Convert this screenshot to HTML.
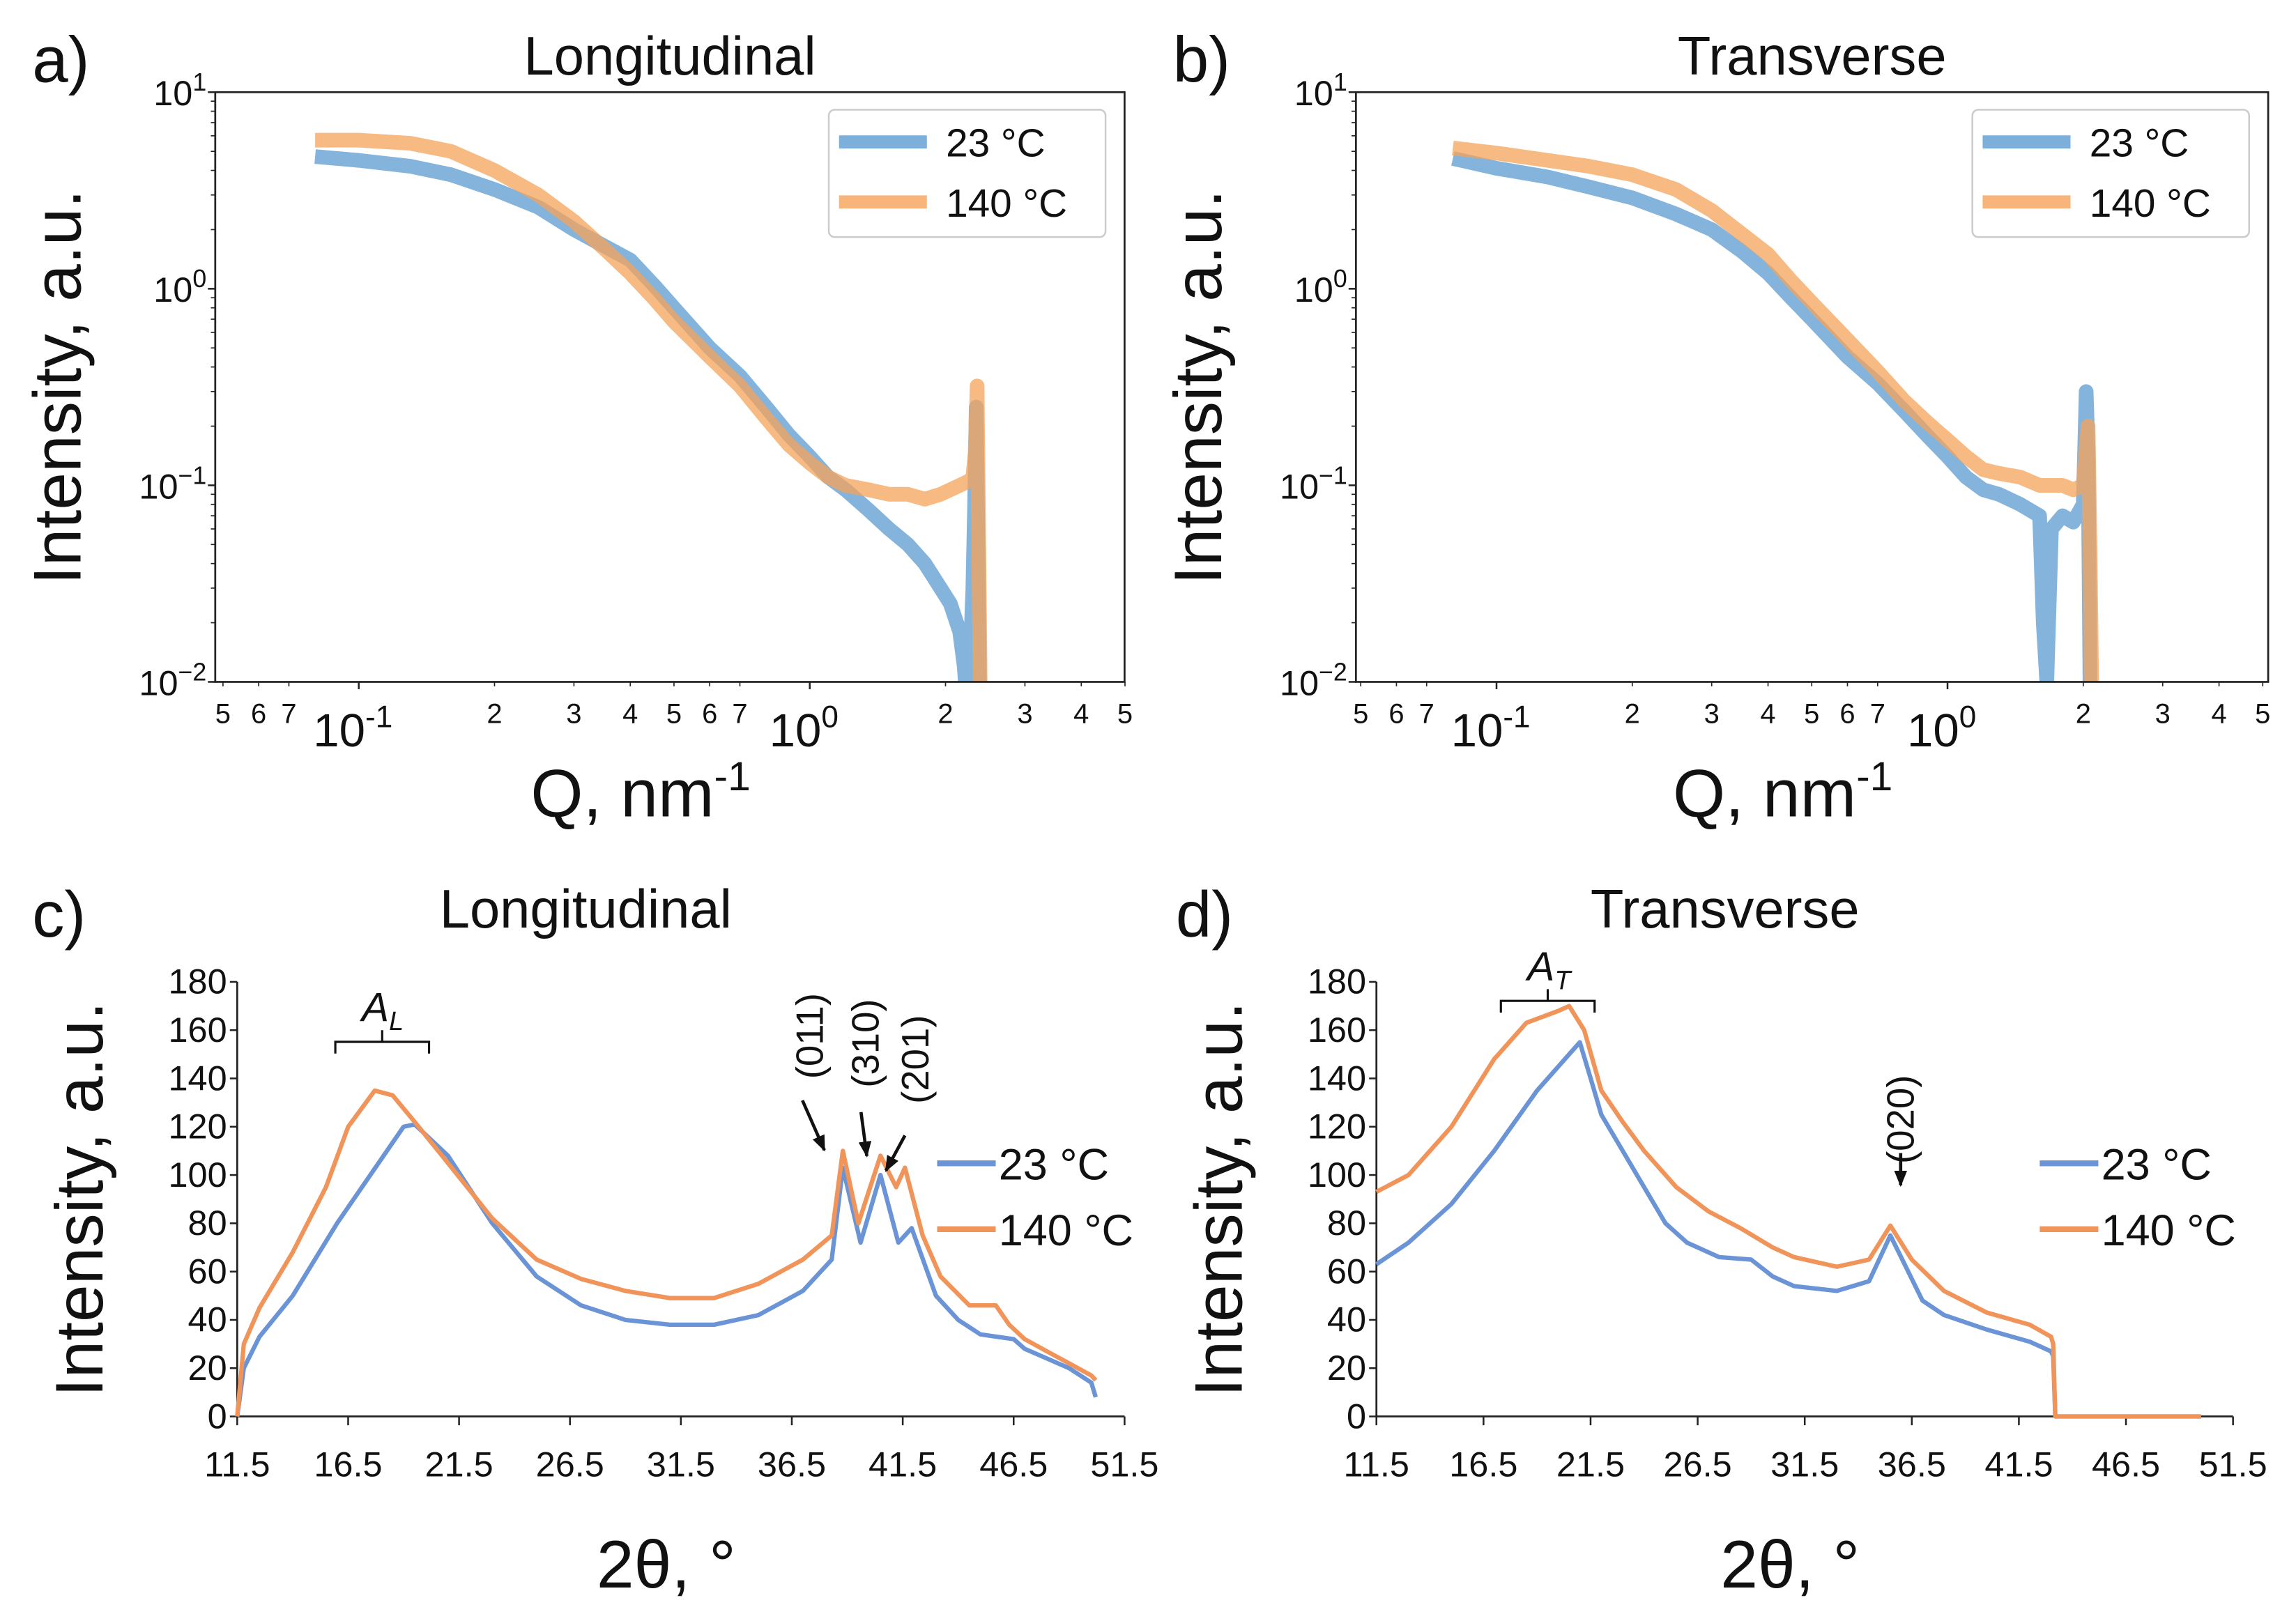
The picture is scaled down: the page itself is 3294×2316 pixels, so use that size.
<!DOCTYPE html>
<html><head><meta charset="utf-8"><style>
html,body{margin:0;padding:0;background:#fff;}
svg{display:block;}
text{font-family:"Liberation Sans",sans-serif;fill:#111;}
</style></head><body>
<svg id="fig" width="3294" height="2316" viewBox="0 0 1568 1103" preserveAspectRatio="none" xmlns="http://www.w3.org/2000/svg">
<g id="root"></g>
</svg>
<script>
// ---- Panel a data (SAXS longitudinal) ----
const qA_blue = [0.08,0.1,0.13,0.16,0.2,0.25,0.3,0.35,0.4,0.45,0.5,0.6,0.7,0.8,0.9,1.0,1.1,1.2,1.35,1.5,1.65,1.8,1.95,2.05,2.15,2.2,2.22,2.25,2.3,2.32,2.34,2.36,2.38];
const iA_blue = [4.7,4.5,4.2,3.8,3.2,2.6,2.0,1.65,1.4,1.05,0.8,0.5,0.36,0.25,0.18,0.14,0.11,0.095,0.075,0.06,0.05,0.04,0.03,0.025,0.018,0.012,0.009,0.008,0.03,0.08,0.25,0.05,0.008];
const qA_orange = [0.08,0.1,0.13,0.16,0.2,0.25,0.3,0.35,0.4,0.45,0.5,0.6,0.7,0.8,0.9,1.0,1.1,1.2,1.35,1.5,1.65,1.8,1.95,2.05,2.15,2.25,2.3,2.33,2.35,2.37,2.39];
const iA_orange = [5.7,5.7,5.5,5.0,4.0,3.0,2.2,1.6,1.2,0.9,0.68,0.45,0.32,0.22,0.16,0.13,0.11,0.1,0.095,0.09,0.09,0.085,0.09,0.095,0.1,0.105,0.11,0.15,0.32,0.05,0.008];
// ---- Panel b data (SAXS transverse) ----
const qB_blue = [0.08,0.1,0.13,0.16,0.2,0.25,0.3,0.35,0.4,0.45,0.5,0.6,0.7,0.8,0.9,1.0,1.1,1.2,1.3,1.45,1.6,1.63,1.66,1.7,1.8,1.9,2.0,2.03,2.05,2.07,2.09];
const iB_blue = [4.6,4.1,3.7,3.3,2.9,2.4,2.0,1.55,1.2,0.9,0.7,0.45,0.33,0.24,0.18,0.14,0.11,0.095,0.09,0.08,0.07,0.02,0.01,0.06,0.07,0.065,0.08,0.3,0.15,0.01,0.008];
const qB_orange = [0.08,0.1,0.13,0.16,0.2,0.25,0.3,0.35,0.4,0.45,0.5,0.6,0.7,0.8,0.9,1.0,1.1,1.2,1.3,1.45,1.6,1.7,1.8,1.9,2.0,2.05,2.07,2.09];
const iB_orange = [5.2,4.9,4.5,4.2,3.8,3.2,2.5,1.9,1.5,1.1,0.85,0.55,0.38,0.27,0.21,0.17,0.14,0.12,0.115,0.11,0.1,0.1,0.1,0.095,0.1,0.2,0.05,0.008];
// ---- Panel c data (WAXS longitudinal) ----
const tC_blue = [11.5,11.8,12.5,14,16,17.5,19,19.5,21,23,25,27,29,31,33,35,37,38.3,38.8,39.6,40.5,41.3,41.9,43,44,45,46.5,47,48,49,50,50.2];
const yC_blue = [0,20,33,50,80,100,120,121,108,80,58,46,40,38,38,42,52,65,103,72,100,72,78,50,40,34,32,28,24,20,14,8];
const tC_orange = [11.5,11.8,12.5,14,15.5,16.5,17.7,18.5,19.5,21,23,25,27,29,31,33,35,37,38.3,38.8,39.5,40.5,41.2,41.6,42.4,43.2,44.5,45.7,46.3,47,48,49,50,50.2];
const yC_orange = [0,30,45,68,95,120,135,133,122,105,82,65,57,52,49,49,55,65,75,110,80,108,95,103,75,58,46,46,38,32,27,22,17,15];
// ---- Panel d data (WAXS transverse) ----
const tD_blue = [11.5,13,15,17,19,20.5,21,21.5,22,23,24,25,26,27.5,29,30,31,33,34.5,35.5,36,37,38,40,42,43,43.1,43.2,50];
const yD_blue = [63,72,88,110,135,150,155,140,125,110,95,80,72,66,65,58,54,52,56,75,66,48,42,36,31,27,25,0,0];
const tD_orange = [11.5,13,15,17,18.5,20,20.5,21.2,22,23,24,25.5,27,28.5,30,31,33,34.5,35.5,36.5,38,40,42,43,43.1,43.2,50];
const yD_orange = [93,100,120,148,163,168,170,160,135,122,110,95,85,78,70,66,62,65,79,65,52,43,38,33,30,0,0];
const yTicksLin = [0,20,40,60,80,100,120,140,160,180];
const xTicksLin = [11.5,16.5,21.5,26.5,31.5,36.5,41.5,46.5,51.5];
const legendLabels = ["23 °C","140 °C"];

const NS="http://www.w3.org/2000/svg";
const root=document.getElementById('root');
function mk(tag,attrs,parent,txt){const e=document.createElementNS(NS,tag);for(const k in attrs)e.setAttribute(k,attrs[k]);if(txt!==undefined)e.textContent=txt;(parent||root).appendChild(e);return e;}

const BLUE_S='#5b9bd0',ORANGE_S='#f5a35a';
const BLUE_L='#6a94d6',ORANGE_L='#f0945a';

function logPanel(id,box,decX,title,letter,dataSets){
  const g=mk('g',{});
  
  
  const [L,R,T,B]=box;
  const x0=decX[0],dec=decX[1]-decX[0];
  const sx=q=>x0+(Math.log10(q)+1)*dec;
  const sy=v=>T+(1-Math.log10(v))*(B-T)/3;
  const clipId='clip'+id;
  const cp=mk('clipPath',{id:clipId},g);mk('rect',{x:L,y:T,width:R-L,height:B-T},cp);
  const dg=mk('g',{'clip-path':'url(#'+clipId+')'},g);
  dataSets.forEach(ds=>{
    let d='';ds.q.forEach((q,i)=>{d+=(i?'L':'M')+sx(q).toFixed(1)+','+sy(ds.v[i]).toFixed(1);});
    const p=mk('path',{d:d,fill:'none',stroke:ds.c,'stroke-width':10,'stroke-opacity':0.75,'stroke-linejoin':'round'},dg);
    
    
  });
  const fr=mk('rect',{x:L,y:T,width:R-L,height:B-T,fill:'none',stroke:'#222','stroke-width':1.3},g);
  
  
  const ylab=['1','0','−1','−2'];
  for(let k=0;k<4;k++){
    const y=T+k*(B-T)/3;
    mk('line',{x1:L-5,x2:L,y1:y,y2:y,stroke:'#222','stroke-width':1.2},g);
    const t=mk('text',{x:L-6,y:y+9,'font-size':24,'text-anchor':'end'},g);
    
    
    t.appendChild(document.createTextNode('10'));
    mk('tspan',{'font-size':17,dy:-10},t,ylab[k]);
    if(k<3){for(let m=2;m<10;m++){const yy=y+(B-T)/3*(1-Math.log10(m));mk('line',{x1:L-3,x2:L,y1:yy,y2:yy,stroke:'#222','stroke-width':0.8},g);}}
  }
  const minors=[[0.05,'5'],[0.06,'6'],[0.07,'7'],[0.2,'2'],[0.3,'3'],[0.4,'4'],[0.5,'5'],[0.6,'6'],[0.7,'7'],[2,'2'],[3,'3'],[4,'4'],[5,'5']];
  minors.forEach(m=>{const x=sx(m[0]);
    const t=mk('text',{x:x,y:B+28,'font-size':19,'text-anchor':'middle'},g,m[1]);
    
    
    mk('line',{x1:x,x2:x,y1:B,y2:B+3,stroke:'#222','stroke-width':0.8},g);});
  [[0.1,'-1'],[1,'0']].forEach(m=>{const x=sx(m[0]);
    mk('line',{x1:x,x2:x,y1:B,y2:B+5,stroke:'#222','stroke-width':1.2},g);
    const t=mk('text',{x:x-4,y:B+44,'font-size':32,'text-anchor':'middle'},g);
    
    
    t.appendChild(document.createTextNode('10'));
    mk('tspan',{'font-size':21,dy:-13},t,m[1]);});
  const tt=mk('text',{x:(L+R)/2,y:51,'font-size':37,'text-anchor':'middle'},g,title);
  
  
  const lt=mk('text',{x:L-125,y:56,'font-size':44},g,letter);
  
  
  const yl=mk('text',{transform:`translate(${L-92},${(T+B)/2}) rotate(-90)`,'font-size':46,'text-anchor':'middle'},g,'Intensity, a.u.');
  
  
  const xl=mk('text',{x:(L+R)/2-20,y:558,'font-size':46,'text-anchor':'middle'},g);
  
  
  xl.appendChild(document.createTextNode('Q, nm'));
  mk('tspan',{'font-size':28,dy:-18},xl,'-1');
  const lg=mk('g',{},g);
  
  
  mk('rect',{x:R-202,y:75,width:189,height:87,rx:4,fill:'#fff',stroke:'#ccc','stroke-width':1.2},lg);
  [[BLUE_S,97],[ORANGE_S,138]].forEach((e,i)=>{
    const le=mk('g',{},lg);
    
    
    mk('line',{x1:R-195,x2:R-135,y1:e[1],y2:e[1],stroke:e[0],'stroke-width':9,'stroke-opacity':0.8},le);
    mk('text',{x:R-122,y:e[1]+10,'font-size':27},le,legendLabels[i]);
  });
}
logPanel('a',[147,768,63,466],[245,553],'Longitudinal','a)',[
  {q:qA_blue,v:iA_blue,c:BLUE_S,name:'series-23C'},{q:qA_orange,v:iA_orange,c:ORANGE_S,name:'series-140C'}]);
logPanel('b',[926,1549,63,466],[1022,1330],'Transverse','b)',[
  {q:qB_blue,v:iB_blue,c:BLUE_S,name:'series-23C'},{q:qB_orange,v:iB_orange,c:ORANGE_S,name:'series-140C'}]);

function linPanel(id,L,R,title,letter,titleX,letterX,sets,legX){
  const g=mk('g',{});
  
  
  const T=671,B=968;
  const sx=v=>L+(v-11.5)/(51.5-11.5)*(R-L);
  const sy=v=>B-v/180*(B-T);
  mk('line',{x1:L,x2:L,y1:T,y2:B,stroke:'#222','stroke-width':1.3},g);
  mk('line',{x1:L,x2:R,y1:B,y2:B,stroke:'#222','stroke-width':1.3},g);
  yTicksLin.forEach(v=>{const y=sy(v);
    mk('line',{x1:L-5,x2:L,y1:y,y2:y,stroke:'#222','stroke-width':1.2},g);
    const t=mk('text',{x:L-7,y:y+8,'font-size':24,'text-anchor':'end'},g,String(v));
    
    });
  xTicksLin.forEach(v=>{const x=sx(v);
    mk('line',{x1:x,x2:x,y1:B,y2:B+6,stroke:'#222','stroke-width':1.2},g);
    const t=mk('text',{x:x,y:B+41,'font-size':24,'text-anchor':'middle'},g,v.toFixed(1));
    
    });
  sets.forEach(ds=>{
    let d='';ds.t.forEach((t,i)=>{d+=(i?'L':'M')+sx(t).toFixed(1)+','+sy(ds.y[i]).toFixed(1);});
    const p=mk('path',{d:d,fill:'none',stroke:ds.c,'stroke-width':3,'stroke-linejoin':'round'},g);
    
    
  });
  const tt=mk('text',{x:titleX,y:634,'font-size':37,'text-anchor':'middle'},g,title);
  
  
  const lt=mk('text',{x:letterX,y:640,'font-size':44},g,letter);
  
  
  const yl=mk('text',{transform:`translate(${L-92},${(T+B)/2}) rotate(-90)`,'font-size':46,'text-anchor':'middle'},g,'Intensity, a.u.');
  
  
  const xl=mk('text',{x:(L+R)/2-10,y:1085,'font-size':46,'text-anchor':'middle'},g,'2θ, °');
  
  
  const lg=mk('g',{},g);
  
  
  [[BLUE_L,795],[ORANGE_L,840]].forEach((e,i)=>{
    const le=mk('g',{},lg);
    
    
    mk('line',{x1:legX,x2:legX+40,y1:e[1],y2:e[1],stroke:e[0],'stroke-width':4},le);
    mk('text',{x:legX+42,y:e[1]+11,'font-size':30},le,legendLabels[i]);
  });
  return g;
}
const gc=linPanel('c',162,768,'Longitudinal','c)',400,22,[
  {t:tC_blue,y:yC_blue,c:BLUE_L,name:'series-23C'},{t:tC_orange,y:yC_orange,c:ORANGE_L,name:'series-140C'}],640);
const gd=linPanel('d',940,1525,'Transverse','d)',1178,803,[
  {t:tD_blue,y:yD_blue,c:BLUE_L,name:'series-23C'},{t:tD_orange,y:yD_orange,c:ORANGE_L,name:'series-140C'}],1393);

mk('defs',{},root).innerHTML='<marker id="ar" viewBox="0 0 10 10" refX="9" refY="5" markerWidth="5" markerHeight="5" orient="auto"><path d="M0,1L10,5L0,9z" fill="#111"/></marker>';
function bracket(g,x1,x2,y,label,sub){
  const b=mk('g',{},g);
  
  
  const m=(x1+x2)/2;
  mk('path',{d:`M${x1},${y+8}L${x1},${y}L${x2},${y}L${x2},${y+8}M${m},${y}L${m},${y-8}`,fill:'none',stroke:'#111','stroke-width':1.5},b);
  const t=mk('text',{x:m-14,y:y-14,'font-size':28,'font-style':'italic','font-family':'Liberation Serif, serif'},b,label);
  mk('tspan',{'font-size':18,dy:6},t,sub);
}
bracket(gc,229,293,712,'A','L');
bracket(gd,1025,1089,684,'A','T');
function peak(g,tx,ty,label,ax1,ay1,ax2,ay2){
  const p=mk('g',{},g);
  
  
  mk('text',{transform:`translate(${tx},${ty}) rotate(-90)`,'font-size':26,'text-anchor':'middle'},p,label);
  mk('line',{x1:ax1,y1:ay1,x2:ax2,y2:ay2,stroke:'#111','stroke-width':2.2,'marker-end':'url(#ar)'},p);
}
peak(gc,562,708,'(011)',548,752,563,786);
peak(gc,600,713,'(310)',588,760,592,790);
peak(gc,634,724,'(201)',618,776,605,800);
peak(gd,1307,765,'(020)',1298,788,1298,810);
</script>
</body></html>
